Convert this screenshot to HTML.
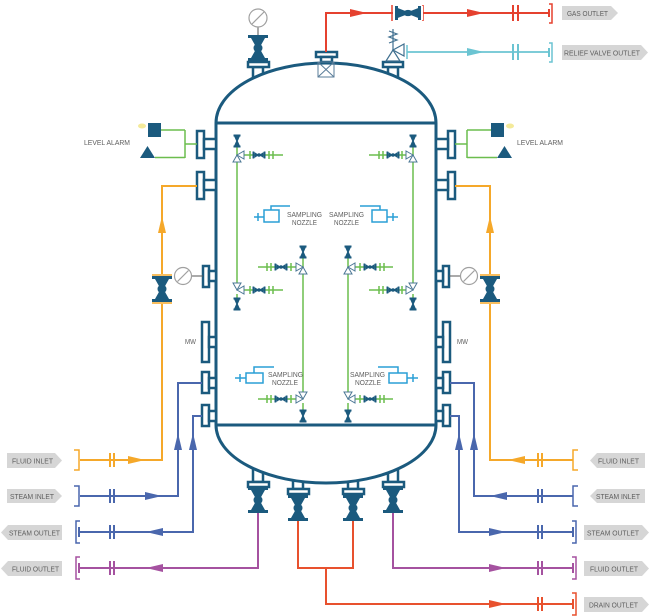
<!DOCTYPE html>
<html><head><meta charset="utf-8"><style>
html,body{margin:0;padding:0;background:#fff;}
svg{display:block;}
text{font-family:"Liberation Sans",sans-serif;fill:#5e5e5e;font-size:7.5px;}
</style></head><body>
<svg width="650" height="616" viewBox="0 0 650 616" xmlns="http://www.w3.org/2000/svg">
<defs>
  <g id="vv">
    <rect x="-10" y="-13" width="20" height="3"/>
    <rect x="-10" y="10" width="20" height="3"/>
    <polygon points="-7,-10 7,-10 2.5,-2 2.5,2 7,10 -7,10 -2.5,2 -2.5,-2"/>
    <circle r="4.5"/>
  </g>
  <g id="iv">
    <rect x="-3.5" y="-6.5" width="7" height="2"/>
    <rect x="-3.5" y="4.5" width="7" height="2"/>
    <polygon points="-2.8,-4.5 2.8,-4.5 0.8,0 2.8,4.5 -2.8,4.5 -0.8,0"/>
  </g>
  <g id="hv">
    <rect x="-6.5" y="-3.5" width="1.8" height="7"/>
    <rect x="4.7" y="-3.5" width="1.8" height="7"/>
    <polygon points="-4.7,-3 0,0 -4.7,3"/>
    <polygon points="4.7,-3 0,0 4.7,3"/>
    <circle r="1.8"/>
  </g>
  <polygon id="ar" points="0,0 -17,-4 -17,4"/>
  <g id="tw" fill="#fff" stroke="#4d7896" stroke-width="1">
    <polygon points="0,0 7,-4 7,4"/>
    <polygon points="0,0 -4,7 4,7"/>
  </g>
</defs>

<!-- ===== stubs for top/bottom nozzles (under vessel) ===== -->
<g fill="#fff" stroke="#1b5a7e" stroke-width="2.5">
  <rect x="253" y="67" width="10" height="14"/>
  <rect x="388" y="67" width="10" height="14"/>
  <rect x="253" y="466" width="10" height="16"/>
  <rect x="293" y="474" width="10" height="15"/>
  <rect x="348" y="474" width="10" height="15"/>
  <rect x="388" y="466" width="10" height="16"/>
</g>

<!-- ===== vessel ===== -->
<path d="M216,123 A110,60 0 0 1 436,123 V425 A110,58 0 0 1 216,425 Z" fill="#fff" stroke="#1b5a7e" stroke-width="3"/>
<path d="M216,123 H436 M216,425 H436" stroke="#1b5a7e" stroke-width="3" fill="none"/>

<!-- ===== flanges top/bottom ===== -->
<g fill="#fff" stroke="#1b5a7e" stroke-width="2.5">
  <rect x="248" y="62" width="21" height="5"/>
  <rect x="316" y="52" width="21" height="5"/>
  <rect x="321" y="57" width="11" height="5"/>
  <rect x="383" y="62" width="20" height="5"/>
  <rect x="248" y="482" width="21" height="5"/>
  <rect x="288" y="489" width="21" height="5"/>
  <rect x="343" y="489" width="21" height="5"/>
  <rect x="383" y="482" width="21" height="5"/>
</g>
<!-- center top box -->
<g fill="none" stroke="#5a7d99" stroke-width="1">
  <rect x="318" y="62" width="16" height="15"/>
  <path d="M318,62 L334,77 M334,62 L318,77"/>
</g>

<!-- ===== side nozzles ===== -->
<g fill="#fff" stroke="#1b5a7e" stroke-width="2.5">
  <rect x="197" y="131" width="7" height="27"/><rect x="204" y="139" width="12" height="10"/>
  <rect x="197" y="172" width="7" height="27"/><rect x="204" y="180" width="12" height="10"/>
  <rect x="203" y="266" width="6" height="21"/><rect x="209" y="271" width="7" height="10"/>
  <rect x="202" y="322" width="7" height="40"/><rect x="209" y="337" width="7" height="10"/>
  <rect x="202" y="372" width="7" height="21"/><rect x="209" y="378" width="7" height="10"/>
  <rect x="202" y="405" width="7" height="21"/><rect x="209" y="411" width="7" height="10"/>
  <rect x="448" y="131" width="7" height="27"/><rect x="436" y="139" width="12" height="10"/>
  <rect x="448" y="172" width="7" height="27"/><rect x="436" y="180" width="12" height="10"/>
  <rect x="443" y="266" width="6" height="21"/><rect x="436" y="271" width="7" height="10"/>
  <rect x="443" y="322" width="7" height="40"/><rect x="436" y="337" width="7" height="10"/>
  <rect x="443" y="372" width="7" height="21"/><rect x="436" y="378" width="7" height="10"/>
  <rect x="443" y="405" width="7" height="21"/><rect x="436" y="411" width="7" height="10"/>
</g>

<!-- ===== top: gauge + valve ===== -->
<line x1="258" y1="27" x2="258" y2="35" stroke="#555" stroke-width="1"/>
<circle cx="258" cy="18" r="9" fill="#fff" stroke="#a0a0a0" stroke-width="1.2"/>
<line x1="252" y1="24" x2="264" y2="12" stroke="#a0a0a0" stroke-width="1.2"/>
<use href="#vv" transform="translate(258,48)" fill="#1b5a7e"/>

<!-- gas outlet (red) -->
<path d="M326,52 V13 H550" fill="none" stroke="#e5412f" stroke-width="2"/>
<use href="#ar" transform="translate(367,13)" fill="#e5412f"/>
<use href="#ar" transform="translate(484,13)" fill="#e5412f"/>
<path d="M392,5 V21 M423,5 V21" stroke="#e5412f" stroke-width="1.5"/>
<rect x="393" y="6" width="30" height="14" fill="#fff"/>
<use href="#vv" transform="translate(408,13) rotate(90) scale(0.7,1)" fill="#1b5a7e"/>
<path d="M513,5 V21 M518,5 V21" stroke="#e5412f" stroke-width="2"/>
<path d="M549,4 H552 V23 H549" fill="none" stroke="#e5412f" stroke-width="1.5"/>
<line x1="549" y1="9" x2="549" y2="17" stroke="#e5412f" stroke-width="2"/>

<!-- relief valve (cyan) -->
<path d="M407,52 H550" fill="none" stroke="#6bc4d2" stroke-width="1.8"/>
<line x1="407" y1="45" x2="407" y2="59" stroke="#6bc4d2" stroke-width="1.5"/>
<use href="#ar" transform="translate(484,52)" fill="#6bc4d2"/>
<path d="M513,44 V60 M518,44 V60" stroke="#6bc4d2" stroke-width="2"/>
<path d="M549,43 H552 V62 H549" fill="none" stroke="#6bc4d2" stroke-width="1.5"/>
<line x1="549" y1="48" x2="549" y2="57" stroke="#6bc4d2" stroke-width="2"/>
<g fill="#fff" stroke="#3f6f8f" stroke-width="1.2">
  <polygon points="393,50 404,44 404,56"/>
  <polygon points="393,50 386,61 400,61"/>
</g>
<path d="M393,50 V29 M389,31 L397,34 L389,37 L397,40 L389,43" fill="none" stroke="#3f6f8f" stroke-width="1.2"/>

<!-- ===== level alarms ===== -->
<g fill="none" stroke="#6cbd4e" stroke-width="1.5">
  <path d="M197,144 H185 M185,130 V158 M160,130 H185 M155,157.5 H185"/>
  <path d="M455,144 H467 M467,130 V158 M492,130 H467 M497,157.5 H467"/>
</g>
<rect x="148" y="123" width="13" height="14" fill="#1b5a7e"/>
<polygon points="140,158 155,158 147.5,146" fill="#1b5a7e"/>
<ellipse cx="142" cy="126" rx="4" ry="2.5" fill="#f4ea9a"/>
<rect x="491" y="123" width="13" height="14" fill="#1b5a7e"/>
<polygon points="497,158 512,158 504.5,146" fill="#1b5a7e"/>
<ellipse cx="510" cy="126" rx="4" ry="2.5" fill="#f4ea9a"/>
<text x="84" y="145" textLength="46" lengthAdjust="spacingAndGlyphs">LEVEL ALARM</text>
<text x="517" y="145" textLength="46" lengthAdjust="spacingAndGlyphs">LEVEL ALARM</text>

<!-- ===== gauges side ===== -->
<line x1="203" y1="276" x2="192" y2="276" stroke="#555" stroke-width="1"/>
<circle cx="183" cy="276" r="8.5" fill="#fff" stroke="#a0a0a0" stroke-width="1.2"/>
<line x1="177.5" y1="281.5" x2="188.5" y2="270.5" stroke="#a0a0a0" stroke-width="1.2"/>
<line x1="449" y1="276" x2="460" y2="276" stroke="#555" stroke-width="1"/>
<circle cx="469" cy="276" r="8.5" fill="#fff" stroke="#a0a0a0" stroke-width="1.2"/>
<line x1="463.5" y1="281.5" x2="474.5" y2="270.5" stroke="#a0a0a0" stroke-width="1.2"/>

<text x="185" y="344" textLength="11" lengthAdjust="spacingAndGlyphs" font-size="6.5">MW</text>
<text x="457" y="344" textLength="11" lengthAdjust="spacingAndGlyphs" font-size="6.5">MW</text>

<!-- ===== orange fluid inlet ===== -->
<g fill="none" stroke="#f5a82a" stroke-width="2">
  <path d="M197,186 H162 V460 H80"/>
  <path d="M455,186 H490 V460 H573"/>
  <path d="M110,453 V467 M114,453 V467"/>
  <path d="M538,453 V467 M542,453 V467"/>
</g>
<g fill="none" stroke="#f5a82a" stroke-width="1.5">
  <path d="M74,450 H79 V470 H74"/>
  <path d="M578,450 H573 V470 H578"/>
</g>
<use href="#ar" transform="translate(145,460)" fill="#f5a82a"/>
<use href="#ar" transform="translate(508,460) rotate(180)" fill="#f5a82a"/>
<use href="#ar" transform="translate(162,216) rotate(-90)" fill="#f5a82a"/>
<use href="#ar" transform="translate(490,216) rotate(-90)" fill="#f5a82a"/>
<rect x="151" y="274" width="22" height="30" fill="#fff"/>
<rect x="479" y="274" width="22" height="30" fill="#fff"/>
<use href="#vv" transform="translate(162,289)" fill="#1b5a7e"/>
<use href="#vv" transform="translate(490,289)" fill="#1b5a7e"/>
<path d="M152,275 H172 M152,303 H172 M480,275 H500 M480,303 H500" stroke="#f5a82a" stroke-width="1.5"/>

<!-- ===== steam ===== -->
<g fill="none" stroke="#4a67ad" stroke-width="2">
  <path d="M202,383 H178 V496 H80"/>
  <path d="M202,416 H193 V532 H80"/>
  <path d="M450,383 H474 V496 H573"/>
  <path d="M450,416 H459 V532 H573"/>
  <path d="M110,489 V503 M114,489 V503 M110,525 V539 M114,525 V539"/>
  <path d="M538,489 V503 M542,489 V503 M538,525 V539 M542,525 V539"/>
</g>
<g fill="none" stroke="#4a67ad" stroke-width="1.5">
  <path d="M74,486 H79 V506 H74"/>
  <path d="M80,521 H76 V543 H80"/>
  <path d="M578,486 H573 V506 H578"/>
  <path d="M572,521 H576 V543 H572"/>
</g>
<path d="M79,527 V537 M573,527 V537" stroke="#4a67ad" stroke-width="2"/>
<use href="#ar" transform="translate(162,496)" fill="#4a67ad"/>
<use href="#ar" transform="translate(146,532) rotate(180)" fill="#4a67ad"/>
<use href="#ar" transform="translate(490,496) rotate(180)" fill="#4a67ad"/>
<use href="#ar" transform="translate(506,532)" fill="#4a67ad"/>
<use href="#ar" transform="translate(178,433) rotate(-90)" fill="#4a67ad"/>
<use href="#ar" transform="translate(193,433) rotate(-90)" fill="#4a67ad"/>
<use href="#ar" transform="translate(459,433) rotate(-90)" fill="#4a67ad"/>
<use href="#ar" transform="translate(474,433) rotate(-90)" fill="#4a67ad"/>

<!-- ===== bottom lines ===== -->
<g fill="none" stroke="#a552a0" stroke-width="2">
  <path d="M258,513 V568 H80"/>
  <path d="M393,513 V568 H573"/>
  <path d="M110,561 V575 M114,561 V575 M538,561 V575 M542,561 V575"/>
</g>
<g fill="none" stroke="#a552a0" stroke-width="1.5">
  <path d="M80,557 H76 V579 H80"/>
  <path d="M572,557 H576 V579 H572"/>
</g>
<path d="M79,563 V573 M573,563 V573" stroke="#a552a0" stroke-width="2"/>
<use href="#ar" transform="translate(146,568) rotate(180)" fill="#a552a0"/>
<use href="#ar" transform="translate(506,568)" fill="#a552a0"/>

<g fill="none" stroke="#e8512e" stroke-width="2">
  <path d="M298,521 V568 H353 V521"/>
  <path d="M326,568 V604 H573"/>
  <path d="M538,597 V611 M542,597 V611"/>
</g>
<path d="M572,593 H576 V615 H572" fill="none" stroke="#e8512e" stroke-width="1.5"/>
<path d="M573,599 V609" stroke="#e8512e" stroke-width="2"/>
<use href="#ar" transform="translate(506,604)" fill="#e8512e"/>

<use href="#vv" transform="translate(258,500)" fill="#1b5a7e"/>
<use href="#vv" transform="translate(298,508)" fill="#1b5a7e"/>
<use href="#vv" transform="translate(353,508)" fill="#1b5a7e"/>
<use href="#vv" transform="translate(393,500)" fill="#1b5a7e"/>

<!-- ===== interior green ===== -->
<g fill="none" stroke="#6cbd4e" stroke-width="1.5">
  <path d="M237,147 V286 M237,294 V298"/>
  <path d="M413,147 V286 M413,294 V298"/>
  <path d="M303,258 V395 M303,403 V410"/>
  <path d="M348,258 V395 M348,403 V410"/>
  <path d="M241,155 H283 M241,290 H283"/>
  <path d="M409,155 H369 M409,290 H369"/>
  <path d="M299,267 H258 M299,399 H258"/>
  <path d="M352,267 H393 M352,399 H393"/>
</g>
<g stroke="#6cbd4e" stroke-width="1.5">
  <path d="M250,151 V159 M269,151 V159 M273,151 V159"/>
  <path d="M250,286 V294 M269,286 V294 M273,286 V294"/>
  <path d="M402,151 V159 M383,151 V159 M379,151 V159"/>
  <path d="M402,286 V294 M383,286 V294 M379,286 V294"/>
  <path d="M291,263 V271 M271,263 V271 M267,263 V271"/>
  <path d="M291,395 V403 M271,395 V403 M267,395 V403"/>
  <path d="M360,263 V271 M380,263 V271 M384,263 V271"/>
  <path d="M360,395 V403 M380,395 V403 M384,395 V403"/>
</g>
<g fill="#1b5a7e">
  <use href="#hv" transform="translate(259,155)"/>
  <use href="#hv" transform="translate(259,290)"/>
  <use href="#hv" transform="translate(393,155)"/>
  <use href="#hv" transform="translate(393,290)"/>
  <use href="#hv" transform="translate(281,267)"/>
  <use href="#hv" transform="translate(281,399)"/>
  <use href="#hv" transform="translate(370,267)"/>
  <use href="#hv" transform="translate(370,399)"/>
  <use href="#iv" transform="translate(237,141)"/>
  <use href="#iv" transform="translate(237,304)"/>
  <use href="#iv" transform="translate(413,141)"/>
  <use href="#iv" transform="translate(413,304)"/>
  <use href="#iv" transform="translate(303,252)"/>
  <use href="#iv" transform="translate(303,416)"/>
  <use href="#iv" transform="translate(348,252)"/>
  <use href="#iv" transform="translate(348,416)"/>
</g>
<use href="#tw" transform="translate(237,155)"/>
<use href="#tw" transform="translate(237,290) scale(1,-1)"/>
<use href="#tw" transform="translate(413,155) scale(-1,1)"/>
<use href="#tw" transform="translate(413,290) scale(-1,-1)"/>
<use href="#tw" transform="translate(303,267) scale(-1,1)"/>
<use href="#tw" transform="translate(303,399) scale(-1,-1)"/>
<use href="#tw" transform="translate(348,267)"/>
<use href="#tw" transform="translate(348,399) scale(1,-1)"/>

<!-- ===== sampling nozzles ===== -->
<g fill="#fff" stroke="#2a9fd6" stroke-width="1.5">
  <rect x="264" y="210" width="15" height="12"/>
  <rect x="372" y="210" width="15" height="12"/>
  <rect x="246" y="373" width="17" height="10"/>
  <rect x="389" y="373" width="18" height="10"/>
</g>
<g fill="none" stroke="#2a9fd6" stroke-width="1.5">
  <path d="M254,217 H264 M258,213 V221 M271,210 V206 H290"/>
  <path d="M387,217 H398 M393,213 V221 M380,210 V206 H360"/>
  <path d="M235,378 H246 M240,374 V382 M254,373 V367 H274"/>
  <path d="M407,378 H418 M413,374 V382 M398,373 V367 H378"/>
</g>
<text x="287" y="217" textLength="35" lengthAdjust="spacingAndGlyphs">SAMPLING</text>
<text x="292" y="225" textLength="25" lengthAdjust="spacingAndGlyphs">NOZZLE</text>
<text x="329" y="217" textLength="35" lengthAdjust="spacingAndGlyphs">SAMPLING</text>
<text x="334" y="225" textLength="25" lengthAdjust="spacingAndGlyphs">NOZZLE</text>
<text x="268" y="377" textLength="35" lengthAdjust="spacingAndGlyphs">SAMPLING</text>
<text x="272" y="385" textLength="26" lengthAdjust="spacingAndGlyphs">NOZZLE</text>
<text x="350" y="377" textLength="35" lengthAdjust="spacingAndGlyphs">SAMPLING</text>
<text x="355" y="385" textLength="26" lengthAdjust="spacingAndGlyphs">NOZZLE</text>

<!-- ===== tags ===== -->
<g fill="#d6d6d6">
  <polygon points="7,453 55,453 62,460.5 55,468 7,468"/>
  <polygon points="7,489 55,489 62,496 55,503 7,503"/>
  <polygon points="1,532.5 8,525 62,525 62,540 8,540"/>
  <polygon points="1,568.5 8,561 62,561 62,576 8,576"/>
  <polygon points="590,460.5 597,453 645,453 645,468 597,468"/>
  <polygon points="590,496 597,489 645,489 645,503 597,503"/>
  <polygon points="584,525 642,525 649,532.5 642,540 584,540"/>
  <polygon points="584,561 642,561 649,568.5 642,576 584,576"/>
  <polygon points="584,597 642,597 649,604.5 642,612 584,612"/>
  <polygon points="562,6 611,6 618,13 611,20 562,20"/>
  <polygon points="562,45 641,45 648,52.5 641,60 562,60"/>
</g>
<text x="12" y="463.5" textLength="41" lengthAdjust="spacingAndGlyphs">FLUID INLET</text>
<text x="10" y="499" textLength="44" lengthAdjust="spacingAndGlyphs">STEAM INLET</text>
<text x="9" y="535.5" textLength="51" lengthAdjust="spacingAndGlyphs">STEAM OUTLET</text>
<text x="12" y="571.5" textLength="47" lengthAdjust="spacingAndGlyphs">FLUID OUTLET</text>
<text x="598" y="463.5" textLength="41" lengthAdjust="spacingAndGlyphs">FLUID INLET</text>
<text x="596" y="499" textLength="44" lengthAdjust="spacingAndGlyphs">STEAM INLET</text>
<text x="587" y="535.5" textLength="52" lengthAdjust="spacingAndGlyphs">STEAM OUTLET</text>
<text x="590" y="571.5" textLength="48" lengthAdjust="spacingAndGlyphs">FLUID OUTLET</text>
<text x="589" y="607.5" textLength="49" lengthAdjust="spacingAndGlyphs">DRAIN OUTLET</text>
<text x="567" y="16" textLength="41" lengthAdjust="spacingAndGlyphs">GAS OUTLET</text>
<text x="564" y="55.5" textLength="76" lengthAdjust="spacingAndGlyphs">RELIEF VALVE OUTLET</text>
</svg>
</body></html>
